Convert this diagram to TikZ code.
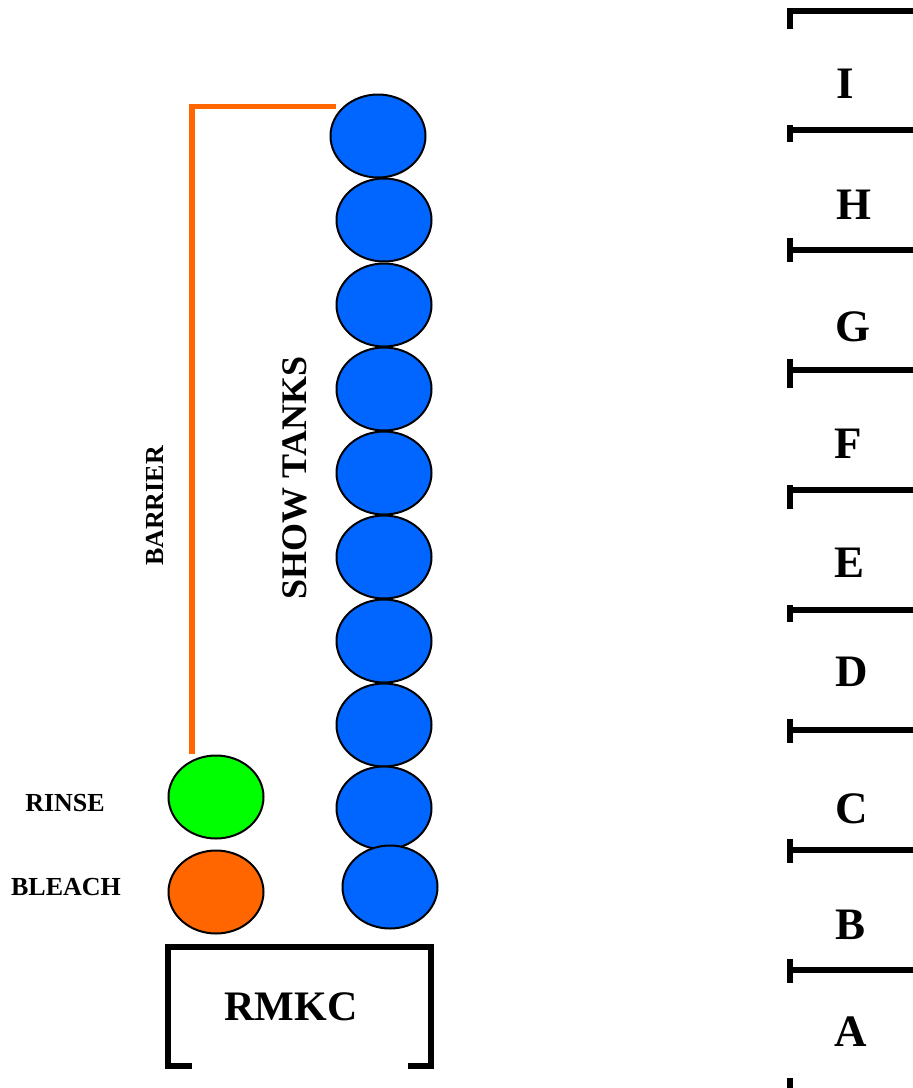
\documentclass[tikz,border=0pt]{standalone}
\usepackage{fontspec}
\setmainfont{Liberation Serif}
\usetikzlibrary{shapes.geometric}
\tikzset{tank/.style = {ellipse, draw, line width = 2, inner sep = 0, minimum width = 95, minimum height = 83}}
\tikzset{lbl/.style = {font = \bfseries\fontsize{26}{26}\selectfont, inner sep = 0}}
\tikzset{big/.style = {font = \bfseries\fontsize{45}{45}\selectfont, inner sep = 0}}
\tikzset{wall/.style = {line width = 5.4}}
\definecolor{tblue}{rgb}{0, 0.4, 1}
\definecolor{tgreen}{rgb}{0, 1, 0}
\definecolor{torange}{rgb}{1, 0.4, 0}

\begin{document}
\begin{tikzpicture}[x = 1pt, y = -1pt]

      \useasboundingbox (0, 0) rectangle (913, 1088);

      % show tanks
      \node [tank, fill = tblue] (t1) at (378, 136) {};
      \node [tank, fill = tblue] (t2) at (384, 220) {};
      \node [tank, fill = tblue] (t3) at (384, 305) {};
      \node [tank, fill = tblue] (t4) at (384, 389) {};
      \node [tank, fill = tblue] (t5) at (384, 473) {};
      \node [tank, fill = tblue] (t6) at (384, 557) {};
      \node [tank, fill = tblue] (t7) at (384, 641) {};
      \node [tank, fill = tblue] (t8) at (384, 725) {};
      \node [tank, fill = tblue] (t9) at (384, 808) {};
      \node [tank, fill = tblue] (t10) at (390, 887) {};

      \node [tank, fill = tgreen] (rinse) at (216, 797) {};
      \node [tank, fill = torange] (bleach) at (216, 892) {};

      \node [lbl] (rinselbl) at (65, 803) {RINSE};
      \node [lbl] (bleachlbl) at (66, 887) {BLEACH};
      \node [lbl, rotate = 90] (barrierlbl) at (155, 506) {BARRIER};
      \node [lbl, rotate = 90, font = \bfseries\fontsize{36}{36}\selectfont] (showlbl) at (295, 478) {SHOW TANKS};

      \draw [torange, line width = 5.6] (192, 754) |- (336, 106.5);

      % rmkc
      \draw [wall] (192, 1066) -- (168, 1066) -- (168, 947) -- (431, 947) -- (431, 1066) -- (408, 1066);
      \node [big, font = \bfseries\fontsize{42}{42}\selectfont] (rmkc) at (291, 1007) {RMKC};

      % sections
      \draw [wall] (790, 29) -- (790, 11) -- (913, 11);
      \draw [wall] (790, 125) -- (790, 142);
      \draw [wall] (790, 130) -- (913, 130);
      \draw [wall] (790, 238) -- (790, 262);
      \draw [wall] (790, 250) -- (913, 250);
      \draw [wall] (790, 359) -- (790, 388);
      \draw [wall] (790, 370) -- (913, 370);
      \draw [wall] (790, 485) -- (790, 509);
      \draw [wall] (790, 490) -- (913, 490);
      \draw [wall] (790, 605) -- (790, 622);
      \draw [wall] (790, 610) -- (913, 610);
      \draw [wall] (790, 719) -- (790, 743);
      \draw [wall] (790, 730) -- (913, 730);
      \draw [wall] (790, 839) -- (790, 863);
      \draw [wall] (790, 850) -- (913, 850);
      \draw [wall] (790, 959) -- (790, 983);
      \draw [wall] (790, 970) -- (913, 970);
      \draw [wall] (790, 1078) -- (790, 1088);

      \node [big] (secI) at (845, 84) {I};
      \node [big] (secH) at (854, 205) {H};
      \node [big] (secG) at (853, 327) {G};
      \node [big] (secF) at (848, 444) {F};
      \node [big] (secE) at (850, 563) {E};
      \node [big] (secD) at (852, 672) {D};
      \node [big] (secC) at (852, 809) {C};
      \node [big] (secB) at (851, 925) {B};
      \node [big] (secA) at (851, 1032) {A};

    \end{tikzpicture}
\end{document}
